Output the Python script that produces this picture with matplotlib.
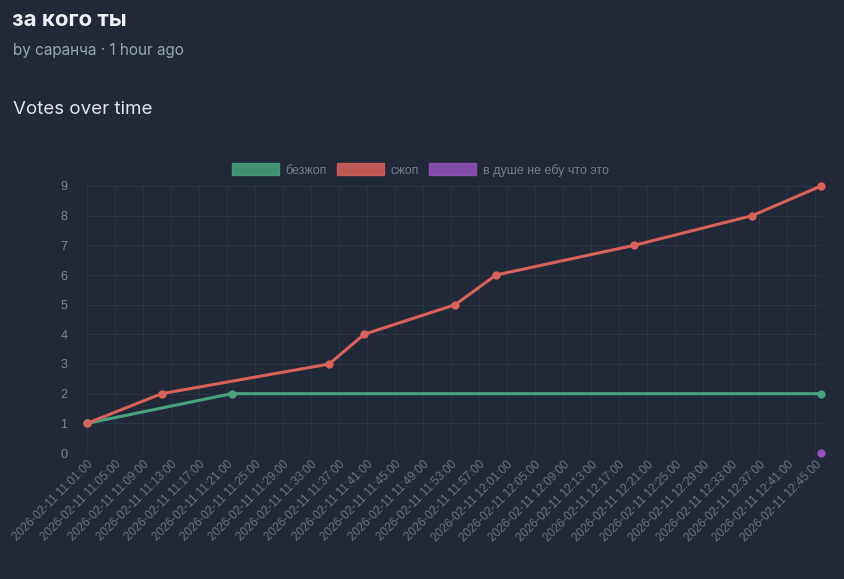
import matplotlib
matplotlib.use("Agg")
import matplotlib.pyplot as plt
import matplotlib.dates as mdates
import matplotlib.patches as mpatches
import pandas as pd

green_times = ["2026-02-11 11:01:00", "2026-02-11 11:21:40", "2026-02-11 12:45:50"]
green_votes = [1, 2, 2]
red_times = ["2026-02-11 11:01:00", "2026-02-11 11:11:40", "2026-02-11 11:35:35",
             "2026-02-11 11:40:35", "2026-02-11 11:53:35", "2026-02-11 11:59:25",
             "2026-02-11 12:19:08", "2026-02-11 12:36:00", "2026-02-11 12:45:50"]
red_votes = [1, 2, 3, 4, 5, 6, 7, 8, 9]
purple_times = ["2026-02-11 12:45:50"]
purple_votes = [0]
series_names = ["безжоп", "сжоп", "в душе не ебу что это"]
tick_start, tick_end = "2026-02-11 11:01:00", "2026-02-11 12:45:00"

plt.rcParams["font.family"] = ["Liberation Sans", "DejaVu Sans"]
bg = "#212837"
colors = ["#48a37e", "#d9625b", "#9553bd"]

fig = plt.figure(figsize=(8.45, 5.79), dpi=100, facecolor=bg)
fig.text(12 / 845, 1 - 20 / 579, "за кого ты", color="#eef0f4", fontsize=16, fontweight="bold",
         va="center", family="Inter")
fig.text(13 / 845, 1 - 51 / 579, "by саранча · 1 hour ago", color="#9aa6ba", fontsize=11,
         va="center", family="Inter")
fig.text(13 / 845, 1 - 109 / 579, "Votes over time", color="#e3e6ec", fontsize=13.5,
         va="center", family="Inter")

ax = fig.add_axes([87 / 845, 126 / 579, (821 - 87) / 845, (453 - 186) / 579], facecolor=bg)
for times, votes, c in [(green_times, green_votes, colors[0]), (red_times, red_votes, colors[1]),
                        (purple_times, purple_votes, colors[2])]:
    ax.plot(pd.to_datetime(times), votes, color=c, lw=2.2, marker="o", ms=5, zorder=3, clip_on=False)

ticks = pd.date_range(tick_start, tick_end, freq="4min")
ax.set_xticks(ticks)
ax.xaxis.set_major_formatter(mdates.DateFormatter("%Y-%m-%d %H:%M:%S"))
ax.set_xlim(pd.Timestamp(tick_start), pd.Timestamp("2026-02-11 12:45:50"))
ax.set_ylim(0, 9)
ax.set_yticks(range(10))
ax.tick_params(axis="x", labelrotation=45, labelsize=8.5, colors="#6b7486", length=0, pad=4)
ax.tick_params(axis="y", labelsize=9, colors="#7d8698", length=0, pad=14)
for lab in ax.get_xticklabels():
    lab.set_ha("right")
    lab.set_rotation_mode("anchor")
ax.grid(True, color="#2c3343", lw=0.8)
for s in ax.spines.values():
    s.set_visible(False)

handles = [mpatches.Patch(facecolor=c, edgecolor=c, alpha=0.85) for c in colors]
fig.legend(handles, series_names, loc="center", bbox_to_anchor=(420 / 845, 1 - 170 / 579), ncol=3,
           frameon=False, fontsize=9, labelcolor="#747d8f", handlelength=3.8, handleheight=1.1,
           columnspacing=0.8, handletextpad=0.5)

fig.savefig("out.png", dpi=100, facecolor=bg)
